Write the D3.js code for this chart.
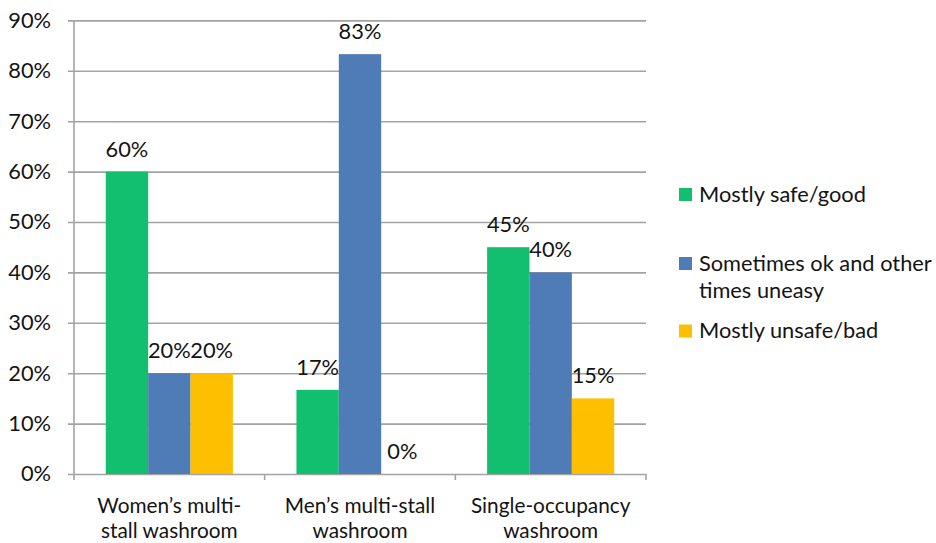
<!DOCTYPE html>
<html>
<head>
<meta charset="utf-8">
<script src="https://cdn.jsdelivr.net/npm/d3@7"></script>
<style>
  html, body { margin: 0; padding: 0; background: #fff; }
  svg text { font-family: Lato, "Liberation Sans", sans-serif; fill: #141414; }
</style>
</head>
<body>
<svg id="chart" width="936" height="543"></svg>
<script>
// Washroom categories (two-line labels)
const categories = ["Women’s multi-stall washroom", "Men’s multi-stall washroom", "Single-occupancy washroom"];
const categoryLines = [["Women’s multi-", "stall washroom"], ["Men’s multi-stall", "washroom"], ["Single-occupancy", "washroom"]];

// Response series
const seriesNames = ["Mostly safe/good", "Sometimes ok and other times uneasy", "Mostly unsafe/bad"];
const seriesLegendLines = [["Mostly safe/good"], ["Sometimes ok and other", "times uneasy"], ["Mostly unsafe/bad"]];
const seriesColors = ["#12bf6f", "#4f7bb7", "#fdbf00"];

// Percent values per series, one entry per category
const safeValues = [60, 16.7, 45];
const mixedValues = [20, 83.3, 40];
const unsafeValues = [20, 0, 15];
const valueLabels = [["60%", "17%", "45%"], ["20%", "83%", "40%"], ["20%", "0%", "15%"]];

const yTicks = [0, 10, 20, 30, 40, 50, 60, 70, 80, 90];

const seriesValues = [safeValues, mixedValues, unsafeValues];

const svg = d3.select("#chart");
const margin = { left: 74, right: 290, top: 20.4, bottom: 69 };
const W = 936, H = 543;
const x0 = margin.left, x1 = W - margin.right;
const yTop = margin.top, yBottom = H - margin.bottom;
const fontSize = 21.8;

const y = d3.scaleLinear().domain([0, 90]).range([yBottom, yTop]);
const x = d3.scaleBand().domain(categories).range([x0, x1]).paddingInner(0).paddingOuter(0);
const bandW = x.bandwidth();
// 3 bars take 3 of 4.5 bar-widths in each band (gap width 150%)
const xs = d3.scaleBand().domain(d3.range(3)).range([bandW * 0.75 / 4.5, bandW - bandW * 0.75 / 4.5]).padding(0);

const gridColor = "#a3a3a3";

// Horizontal gridlines with outward ticks
svg.append("g")
  .attr("transform", `translate(${x0},0)`)
  .call(d3.axisLeft(y).tickValues(yTicks).tickSize(-(x1 - x0)).tickSizeOuter(0).tickFormat(d => d + "%").tickPadding(23))
  .call(g => g.select(".domain").remove())
  .call(g => g.selectAll(".tick line").attr("stroke", gridColor).attr("stroke-width", 1.6).attr("x1", -6))
  .call(g => g.selectAll(".tick text").attr("font-size", fontSize).attr("font-family", "Lato").attr("fill", "#141414"));

// Vertical axis line
svg.append("line")
  .attr("x1", x0).attr("x2", x0).attr("y1", yTop).attr("y2", yBottom + 6)
  .attr("stroke", gridColor).attr("stroke-width", 1.6);

// Category boundary ticks
const boundaries = categories.map(c => x(c) + bandW);
svg.append("g").selectAll("line").data(boundaries).join("line")
  .attr("x1", d => d).attr("x2", d => d).attr("y1", yBottom).attr("y2", yBottom + 6)
  .attr("stroke", gridColor).attr("stroke-width", 1.6);

// Bars
const bars = svg.append("g");
seriesValues.forEach((vals, si) => {
  bars.selectAll(null).data(vals).join("rect")
    .attr("x", (d, ci) => x(categories[ci]) + xs(si))
    .attr("width", xs.bandwidth())
    .attr("y", d => y(d))
    .attr("height", d => yBottom - y(d))
    .attr("fill", seriesColors[si]);
  bars.selectAll(null).data(vals).join("text")
    .attr("x", (d, ci) => x(categories[ci]) + xs(si) + xs.bandwidth() / 2)
    .attr("y", d => y(d) - 15)
    .attr("text-anchor", "middle")
    .attr("font-size", fontSize)
    .text((d, ci) => valueLabels[si][ci]);
});

// Category labels, one text per line
const catG = svg.append("g");
categoryLines.forEach((lines, ci) => {
  lines.forEach((ln, li) => catG.append("text")
    .attr("x", x(categories[ci]) + bandW / 2)
    .attr("y", 512.5 + li * 25)
    .attr("text-anchor", "middle")
    .attr("font-size", 20.8)
    .text(ln));
});

// Legend
const legendBaselines = [201.5, 270.5, 338];
const leg = svg.append("g");
seriesLegendLines.forEach((lines, si) => {
  leg.append("rect")
    .attr("x", 679).attr("y", legendBaselines[si] - 13.5)
    .attr("width", 13).attr("height", 13)
    .attr("fill", seriesColors[si]);
  const t = leg.append("text").attr("x", 699).attr("y", legendBaselines[si]).attr("font-size", fontSize);
  lines.forEach((ln, li) => t.append("tspan").attr("x", 699).attr("dy", li ? 27 : 0).text(ln));
});
</script>
</body>
</html>
